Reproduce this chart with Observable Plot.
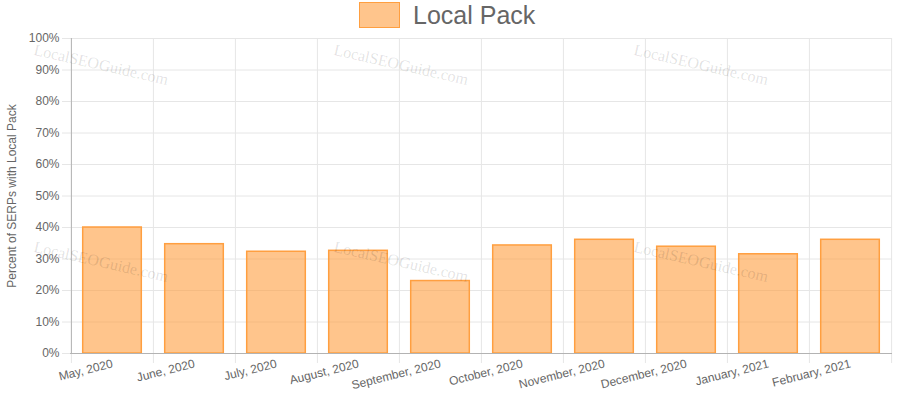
<!DOCTYPE html>
<html>
<head>
<meta charset="utf-8">
<script src="https://cdn.jsdelivr.net/npm/d3@7"></script>
<script src="https://cdn.jsdelivr.net/npm/@observablehq/plot@0.6"></script>
<style>
  html, body { margin: 0; padding: 0; background: white; }
  #wrap { position: relative; width: 903px; height: 394px; overflow: hidden; }
  #wrap svg { position: absolute; left: 0; top: 0; }
  .legend { position: absolute; left: 359px; top: 2px; height: 26px; display: flex; align-items: center;
    font-family: "Liberation Sans", Arial, sans-serif; font-size: 25px; color: #666; }
  .legend .box { width: 39px; height: 24px; background: rgba(255,159,64,0.6); border: 1.5px solid #ff9f40; margin-right: 13px; }
  .wm { position: absolute; font-family: "Liberation Serif", "Times New Roman", serif; font-size: 16px;
    color: rgba(0,0,0,0.12); transform-origin: 0 0; transform: rotate(12.8deg); white-space: nowrap; pointer-events: none; }
</style>
</head>
<body>
<div id="wrap"></div>
<script>
const months = ["May, 2020", "June, 2020", "July, 2020", "August, 2020", "September, 2020", "October, 2020", "November, 2020", "December, 2020", "January, 2021", "February, 2021"];
const values = [0.400, 0.347, 0.323, 0.326, 0.230, 0.343, 0.361, 0.339, 0.315, 0.361];
const yTicks = [0, 0.1, 0.2, 0.3, 0.4, 0.5, 0.6, 0.7, 0.8, 0.9, 1.0];
const seriesName = "Local Pack";
const yTitle = "Percent of SERPs with Local Pack";
const watermark = "LocalSEOGuide.com";

const data = months.map((m, i) => ({month: m, value: values[i]}));
const half = 41.1;

const chart = Plot.plot({
  width: 903, height: 394,
  marginLeft: 70, marginRight: 11, marginTop: 38, marginBottom: 41,
  style: {fontFamily: "'Liberation Sans', Arial, sans-serif", fontSize: "12px", color: "#666", background: "white", overflow: "visible"},
  x: {type: "band", domain: months, padding: 0, label: null},
  y: {domain: [0, 1], label: null},
  marks: [
    Plot.ruleY(yTicks, {stroke: "#e6e6e6", insetLeft: -8}),
    Plot.ruleX(months, {x: d => d, dx: -half, stroke: "#e6e6e6", insetBottom: -10}),
    Plot.ruleX([months[months.length - 1]], {x: d => d, dx: half, stroke: "#e6e6e6", insetBottom: -10}),
    Plot.barY(data, {x: "month", y: "value", fill: "#ff9f40", fillOpacity: 0.6, stroke: "#ff9f40", strokeWidth: 1.5, insetLeft: 11.7, insetRight: 11.7}),
    Plot.ruleY([0], {stroke: "#b3b3b3"}),
    Plot.ruleX([months[0]], {x: d => d, dx: -half, stroke: "#b3b3b3"}),
    Plot.axisY({ticks: yTicks, tickFormat: d3.format(".0%"), tickSize: 0, tickPadding: 11, label: null, fill: "#666"}),
    Plot.axisX({tickSize: 0, tickRotate: -14, tickPadding: 10, textAnchor: "end", label: null, fill: "#666"}),
    Plot.text([yTitle], {frameAnchor: "left", textAnchor: "middle", rotate: -90, dx: -58, fill: "#666", fontSize: 12})
  ]
});

const wrap = document.getElementById("wrap");
wrap.appendChild(chart);

const legend = document.createElement("div");
legend.className = "legend";
legend.innerHTML = `<div class="box"></div><span>${seriesName}</span>`;
wrap.appendChild(legend);

for (const top of [41, 238]) {
  for (const left of [36, 336, 636]) {
    const w = document.createElement("div");
    w.className = "wm";
    w.style.left = left + "px";
    w.style.top = top + "px";
    w.textContent = watermark;
    wrap.appendChild(w);
  }
}
</script>
</body>
</html>
